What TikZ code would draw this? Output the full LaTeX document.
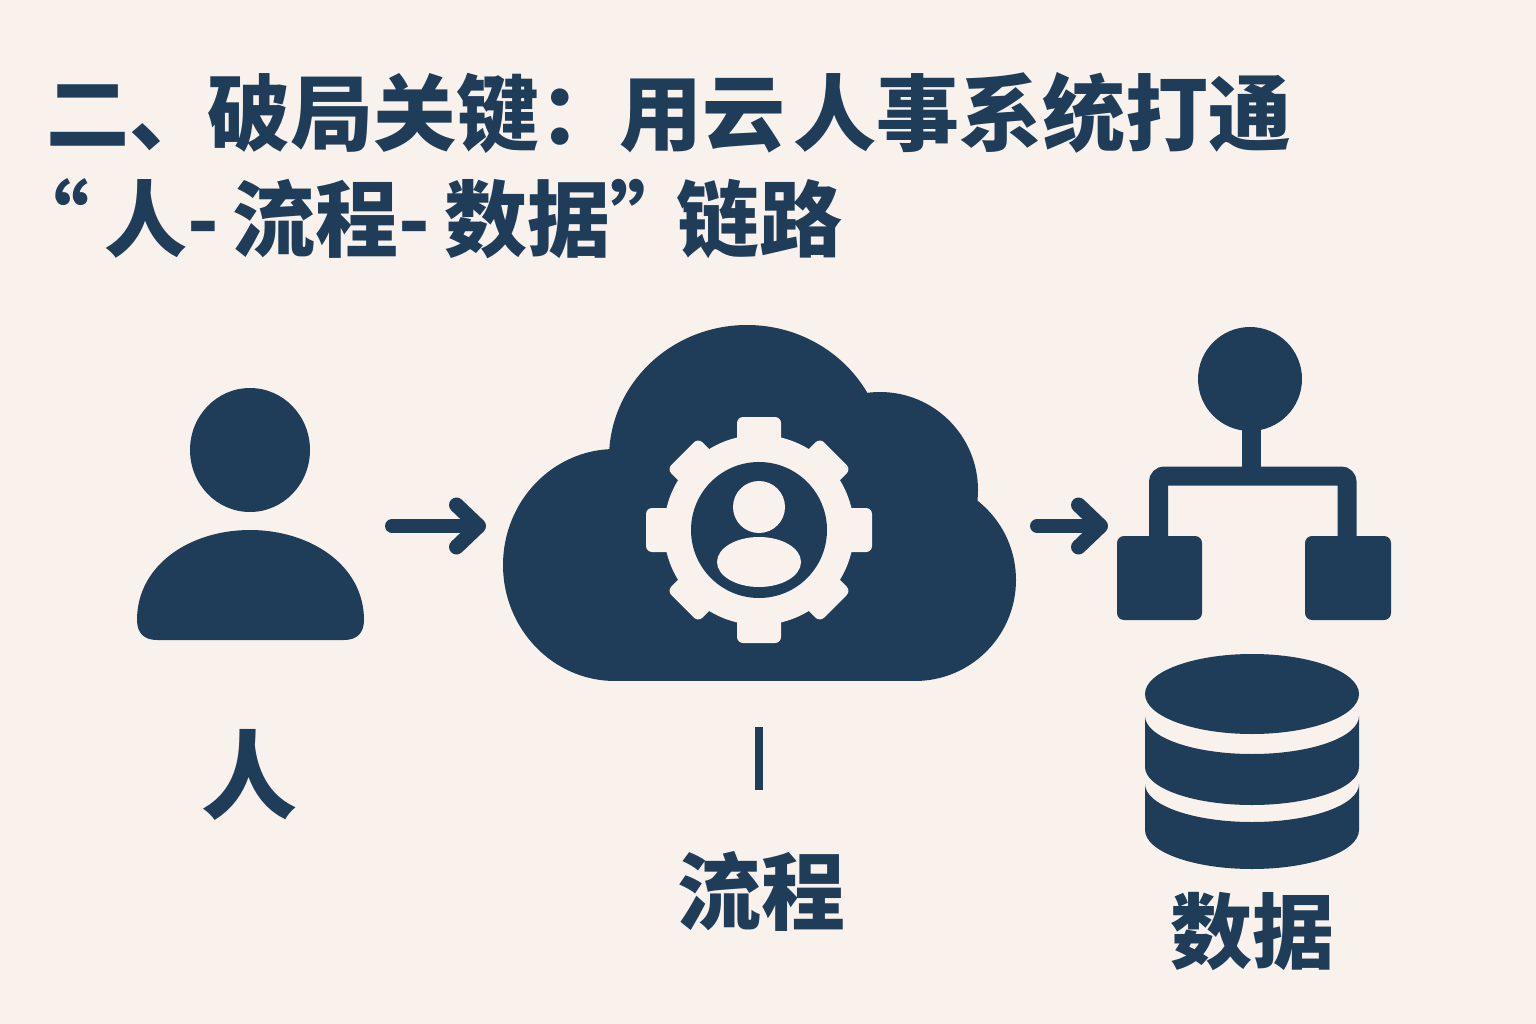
\documentclass[tikz,border=0pt]{standalone}
\usepackage{fontspec}
\usetikzlibrary{arrows.meta}
\newfontfamily\cjkfont{Noto Sans CJK SC}
\definecolor{navy}{HTML}{1F3D59}
\definecolor{paper}{HTML}{F9F2EC}
\tikzset{
  titletext/.style={anchor=base west,inner sep=0pt,text=navy,font=\cjkfont\bfseries\fontsize{83pt}{83pt}\selectfont},
  labeltext/.style={anchor=base,inner sep=0pt,text=navy,font=\cjkfont\bfseries\fontsize{84pt}{84pt}\selectfont},
  flowarrow/.style={navy,line width=14pt,line cap=round,-{Straight Barb[round,length=22pt,width=42pt,line width=15pt]}}
}
\begin{document}
\begin{tikzpicture}[x=1pt,y=-1pt]
\fill[paper] (0,0) rectangle (1536,1024);
\useasboundingbox (0,0) rectangle (1536,1024);
\node[titletext] (titleone) at (46,145) {二、\hspace{-5pt}破局关键：\hspace{-3pt}用云\hspace{8pt}人事系统打通};
\node[titletext] (titletwo) at (6,251) {“\hspace{15pt}人-\hspace{14pt}流程-\hspace{14pt}数据”\hspace{-17pt}链路};
% person
\fill[navy] (250,450) ellipse (60pt and 62pt);
\fill[navy] (137,620) .. controls (137,565) and (190,530) .. (250,530) .. controls (310,530) and (364,565) .. (364,620)
  .. controls (364,633) and (357,640) .. (344,640) -- (157,640) .. controls (144,640) and (137,633) .. (137,620) -- cycle;
% cloud
\fill[navy] (747,458) ellipse (138pt and 133pt);
\fill[navy] (880,490) circle (98pt);
\fill[navy] (915,580) circle (101pt);
\fill[navy] (615,565) ellipse (112pt and 116pt);
\fill[navy] (615,500) rectangle (915,681);
% gear
\begin{scope}[shift={(759,530)}]
\fill[paper] (0,0) circle (95pt);
\foreach \a/\r in {0/113,45/108,90/113,135/108,180/113,225/108,270/113,315/108}
  \fill[paper,rounded corners=6pt,rotate=\a] (-22,-\r) rectangle (22,-70);
\fill[navy] (0,0) circle (68pt);
\fill[paper] (0,-23) circle (26pt);
\fill[paper] (0,32) ellipse (42pt and 25pt);
\end{scope}
% tree
\fill[navy] (1250,379) ellipse (52pt and 52pt);
\draw[navy,line width=19pt] (1251,420) -- (1251,476);
\draw[navy,line width=19pt,rounded corners=6pt] (1158.5,545) -- (1158.5,476) -- (1347,476) -- (1347,545);
\fill[navy,rounded corners=7pt] (1117,536) rectangle (1202,620);
\fill[navy,rounded corners=7pt] (1305,536) rectangle (1391,620);
% database
\fill[navy] (1252,694) ellipse (107pt and 40pt);
\fill[navy] (1145,716) arc (180:360:107pt and 38pt) -- (1359,767) arc (360:180:107pt and 38pt) -- cycle;
\fill[navy] (1145,784) arc (180:360:107pt and 38pt) -- (1359,830) arc (360:180:107pt and 39pt) -- cycle;
% links
\coordinate (personout) at (392,526);
\coordinate (cloudin) at (486,526);
\coordinate (cloudout) at (1037,526);
\coordinate (treein) at (1108,526);
\coordinate (cloudtick) at (759,727);
\coordinate (labeltick) at (759,790);
\draw[flowarrow] (personout) -- (cloudin);
\draw[flowarrow] (cloudout) -- (treein);
\draw[navy,line width=8pt] (cloudtick) -- (labeltick);
\node[labeltext,font=\cjkfont\bfseries\fontsize{96pt}{96pt}\selectfont] (personlabel) at (249,811) {人};
\node[labeltext] (processlabel) at (761,923) {流程};
\node[labeltext,font=\cjkfont\bfseries\fontsize{82pt}{82pt}\selectfont] (datalabel) at (1252,962) {数据};
\end{tikzpicture}
\end{document}
